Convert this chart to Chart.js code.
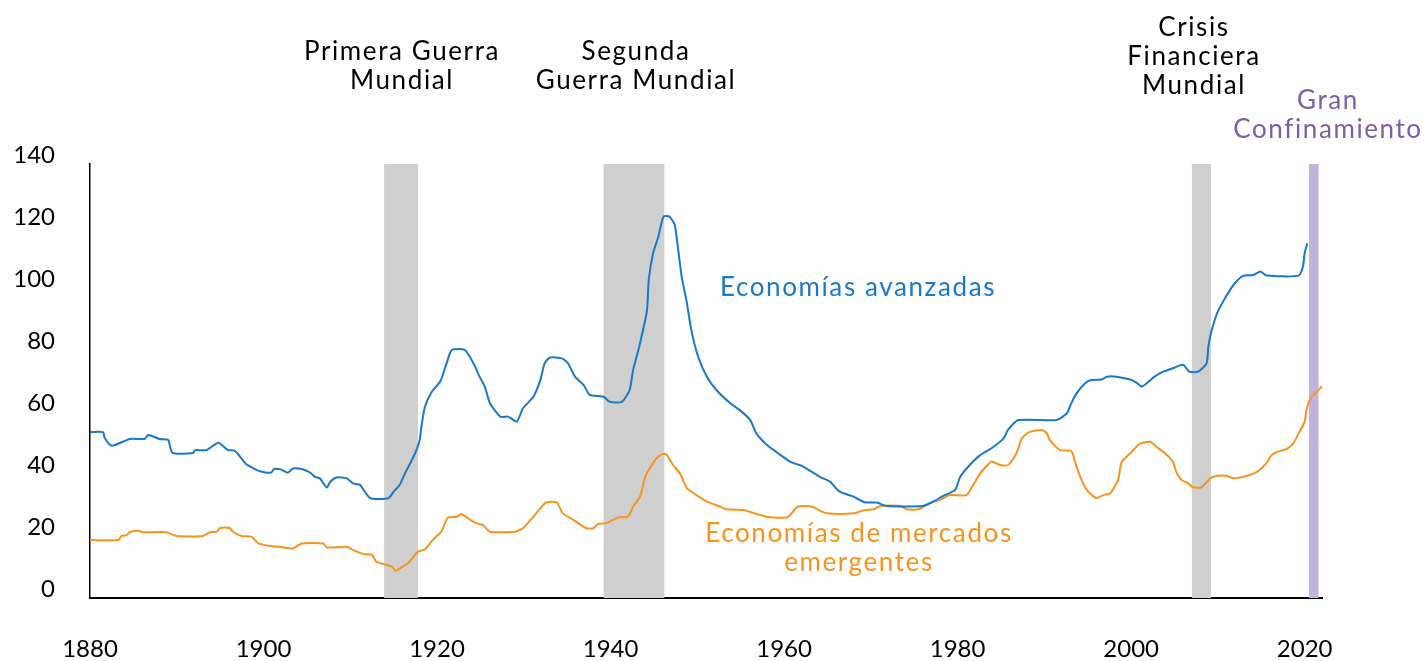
<!DOCTYPE html>
<html>
<head>
<meta charset="utf-8">
<script src="https://cdn.jsdelivr.net/npm/chart.js@4"></script>
<style>
html,body{margin:0;padding:0;background:#fff;}
#wrap{width:1425px;height:661px;position:relative;}
</style>
</head>
<body>
<div id="wrap"><canvas id="c" width="1425" height="661"></canvas></div>
<script>
// ---- Data ----
const advYears = [1880,1881.5,1881.7,1882.5,1884.6,1886.3,1886.7,1888,1889,1889.5,1891.9,1892.1,1893.4,1894.8,1895.9,1896.7,1898,1898.8,1899.8,1900.9,1901.2,1902,1902.8,1903.4,1904.4,1905.4,1905.9,1906.5,1906.9,1907.3,1907.7,1908.4,1909.6,1910.3,1911.1,1912.3,1914.4,1915,1915.7,1916.3,1917.1,1917.7,1918,1918.2,1918.6,1919.4,1920.4,1921.1,1921.7,1923.2,1924.2,1924.9,1925.5,1926.1,1927.3,1928.2,1929.2,1929.9,1931.1,1931.9,1932.4,1933,1934.4,1935.1,1935.9,1936.9,1937.6,1939.2,1939.9,1941.3,1942.2,1942.6,1943.4,1944.2,1944.4,1944.9,1945.5,1946.1,1946.8,1947.4,1947.8,1948.2,1948.8,1949.3,1950.1,1951.1,1952.2,1953.8,1954.9,1956.1,1956.8,1958,1959.3,1960.7,1962.2,1964.1,1965.3,1966.4,1968,1969.3,1970.7,1971.8,1976,1977.2,1978.3,1979.7,1980.3,1981.4,1982.6,1983.9,1985.3,1985.8,1987,1991.4,1992.6,1993.1,1993.7,1994.7,1995.4,1996.6,1997.2,1998.3,1999.9,2000.6,2001.2,2001.8,2002.7,2003.7,2004.8,2006,2006.7,2007.7,2008.7,2008.9,2009.3,2009.9,2010.6,2011.4,2012,2012.9,2014.1,2014.9,2015.6,2019.3,2019.8,2020,2020.3];
const advValues = [53.5,53.5,51.6,49.1,51.3,51.3,52.6,51.3,51,46.8,46.8,47.7,47.7,50.1,47.7,47.5,43.2,41.9,40.7,40.5,41.6,41.5,40.4,41.8,41.6,40.4,39.1,38.6,37,35.6,37.5,38.9,38.6,37,36.5,32.2,32.2,34.3,36.5,40.2,44.5,48.3,51,55.3,61.7,66.5,70,75.7,80,80,75.7,71.4,68.2,62.8,58.5,58.5,56.9,61.2,64.9,70.3,75.7,77.6,77.3,75.7,71.4,68.7,65.5,64.9,63.3,63.3,67.1,73.5,82.2,92.9,102.6,111.2,116.5,123,123,120.3,112.3,103.6,95.1,86.5,77.8,71.4,67.1,62.8,60.6,57.4,53.1,49.4,46.7,44,42.4,39.1,37.5,34.3,32.7,30.9,30.8,29.7,29.7,31.1,32.9,34.8,39.1,42.9,46.1,48.3,51.5,54.2,57.4,57.4,59.6,62.8,66,69.3,70.3,70.5,71.4,71.4,70.5,69.5,68.2,69.3,71.4,73,74.1,75.2,73,73,75.7,81.1,86.5,91.8,95.6,99.4,101.7,103.9,104.2,105.3,104,104,106.9,111.2,114.4];

const emYears = [1880,1883.3,1883.6,1884.2,1884.6,1885.6,1886.1,1888.8,1890,1893,1893.8,1894.6,1895,1896.1,1896.5,1897.5,1898.6,1899.4,1900.7,1901.9,1903.4,1904.4,1906.9,1907.3,1909.6,1910.3,1911.5,1912.5,1913,1913.8,1914.8,1915.2,1915.5,1916.7,1917.8,1918.6,1919.6,1920.5,1920.9,1921.3,1922.3,1922.8,1924,1924.8,1925.3,1926.1,1929,1929.9,1931.1,1931.9,1932.6,1933.8,1934.5,1935.7,1937.2,1938,1938.6,1939.5,1940.9,1942,1942.6,1943.4,1944,1944.5,1945.3,1946.1,1946.5,1947.2,1948,1948.8,1949.9,1951.1,1952.6,1953.4,1955.3,1956.4,1958,1960.3,1960.7,1961.6,1963.2,1964.1,1964.9,1968,1969.1,1970.3,1971.1,1973.4,1974.1,1975.5,1976.4,1977.2,1978.1,1979.1,1981,1981.8,1982.6,1983.3,1983.9,1984.9,1985.8,1986.6,1987,1987.4,1988.3,1989.7,1990.3,1990.6,1991.8,1993.1,1993.7,1994.3,1994.9,1996,1996.8,1997.6,1998.5,1998.9,1999.9,2001,2002.2,2002.9,2003.9,2004.8,2005.2,2005.8,2006.6,2007.1,2008.1,2009.1,2009.9,2011,2011.8,2013.3,2014.5,2015.6,2016.2,2016.9,2017.9,2018.7,2019.4,2020,2020.2,2020.6,2021.2,2022];
const emValues = [18.7,18.7,20,20.3,21.3,21.7,21.2,21.2,20,20,21.2,21.4,22.6,22.6,21.3,20,19.8,17.6,16.8,16.5,16,17.6,17.6,16.3,16.5,15.5,14.2,13.9,11.7,11,10.1,8.8,9.2,11.4,14.9,15.7,19,21.4,24.1,26,26.2,27.1,24.9,23.9,23.5,21.4,21.4,22.5,26.2,28.9,30.9,30.8,27.3,25.2,22.5,22.5,23.9,24.1,26,26.2,29.5,32.7,39.1,41.8,45.1,46.5,46.1,42.9,40.2,35.4,33.2,31.1,29.5,28.6,28.4,27.5,26.2,26,26.8,29.5,29.5,28.2,27.3,27.3,28.2,28.6,29.7,29.7,28.6,28.6,30,31.1,31.8,33.2,33.2,36.5,40.2,42.4,44,42.9,42.9,45.8,48.3,51.5,53.6,54.2,53.1,51,47.7,47.4,42.4,38.1,34.8,32.2,33.2,33.8,38.1,43.8,46.7,49.7,50.4,48.8,46.7,44,40.7,38.1,37,35.7,35.7,38.6,39.4,39.4,38.6,39.4,40.7,43.5,46.1,47.2,48,49.9,53.6,56.9,60.6,63.9,66,68.2];

const xTickValues = [1880,1900,1920,1940,1960,1980,2000,2020];
const yTickValues = [0,20,40,60,80,100,120,140];

// Shaded episodes
const bandStarts = [1913.9, 1939.2, 2007.0, 2020.5];
const bandEnds   = [1917.8, 1946.2, 2009.2, 2021.6];
const bandNames  = [["Primera Guerra","Mundial"],["Segunda","Guerra Mundial"],["Crisis","Financiera","Mundial"],["Gran","Confinamiento"]];
const bandKinds  = ["war","war","crisis","covid"];

const seriesNames = ["Economías avanzadas", "Economías de mercados emergentes"];
const seriesLabelLines = [["Economías avanzadas"], ["Economías de mercados", "emergentes"]];

// ---- Styles ----
const BLUE = '#1a78c8', ORANGE = '#f7941d', GREY = '#cfcfcf', PURPLE_BAND = '#c3b3dc', PURPLE_TXT = '#7b5ea7';
const FONT = 'Lato, "Noto Sans", sans-serif';

const toPts = (xs, ys) => xs.map((x, i) => ({x: x, y: ys[i]}));

const bandsPlugin = {
  id: 'bands',
  beforeDatasetsDraw(chart) {
    const {ctx, chartArea, scales} = chart;
    ctx.save();
    bandStarts.forEach((s, i) => {
      const x0 = scales.x.getPixelForValue(s);
      const x1 = scales.x.getPixelForValue(bandEnds[i]);
      ctx.fillStyle = bandKinds[i] === 'covid' ? PURPLE_BAND : GREY;
      ctx.fillRect(x0, chartArea.top, x1 - x0, chartArea.bottom - chartArea.top);
    });
    ctx.restore();
  }
};

const textPlugin = {
  id: 'texts',
  afterDraw(chart) {
    const {ctx} = chart;
    ctx.save();
    ctx.textAlign = 'center';
    ctx.textBaseline = 'middle';
    ctx.font = '26px ' + FONT;
    try { ctx.letterSpacing = '1.6px'; } catch (e) {}
    const lh = 29;
    // episode labels: [centerX, firstLineY]
    const pos = [[402, 52], [636, 52], [1194, 28], [1328, 101]];
    bandNames.forEach((lines, i) => {
      ctx.fillStyle = bandKinds[i] === 'covid' ? PURPLE_TXT : '#000';
      lines.forEach((t, j) => ctx.fillText(t, pos[i][0], pos[i][1] + j * lh));
    });
    // series labels
    const spos = [[858, 288], [859, 534]];
    const scol = [BLUE, ORANGE];
    seriesLabelLines.forEach((lines, i) => {
      ctx.fillStyle = scol[i];
      lines.forEach((t, j) => ctx.fillText(t, spos[i][0], spos[i][1] + j * lh));
    });
    ctx.restore();
  }
};

new Chart(document.getElementById('c'), {
  type: 'line',
  data: {
    datasets: [
      {label: seriesNames[0], data: toPts(advYears, advValues), borderColor: BLUE, borderWidth: 2, pointRadius: 0, tension: 0.2, fill: false},
      {label: seriesNames[1], data: toPts(emYears, emValues), borderColor: ORANGE, borderWidth: 2, pointRadius: 0, tension: 0.2, fill: false}
    ]
  },
  options: {
    responsive: false,
    animation: false,
    layout: {padding: {left: 0, right: 103, top: 164, bottom: 0}},
    plugins: {legend: {display: false}, tooltip: {enabled: false}},
    scales: {
      x: {
        type: 'linear', min: 1880, max: 2022,
        grid: {display: false, drawTicks: false},
        border: {display: true, color: '#000', width: 2},
        afterBuildTicks: (s) => { s.ticks = xTickValues.map(v => ({value: v})); },
        afterFit: (s) => { s.height = 63; },
        ticks: {padding: 37, color: '#000', font: {family: FONT, size: 24}, maxRotation: 0, autoSkip: false, callback: (v) => String(v)}
      },
      y: {
        type: 'linear', min: 0, max: 140,
        grid: {display: false, drawTicks: false},
        border: {display: true, color: '#000', width: 1.5},
        afterBuildTicks: (s) => { s.ticks = yTickValues.map(v => ({value: v})); },
        afterFit: (s) => { s.width = 90; },
        ticks: {padding: 35, labelOffset: -9, color: '#000', font: {family: FONT, size: 24}, callback: (v) => String(v)}
      }
    }
  },
  plugins: [bandsPlugin, textPlugin]
});
</script>
</body>
</html>
